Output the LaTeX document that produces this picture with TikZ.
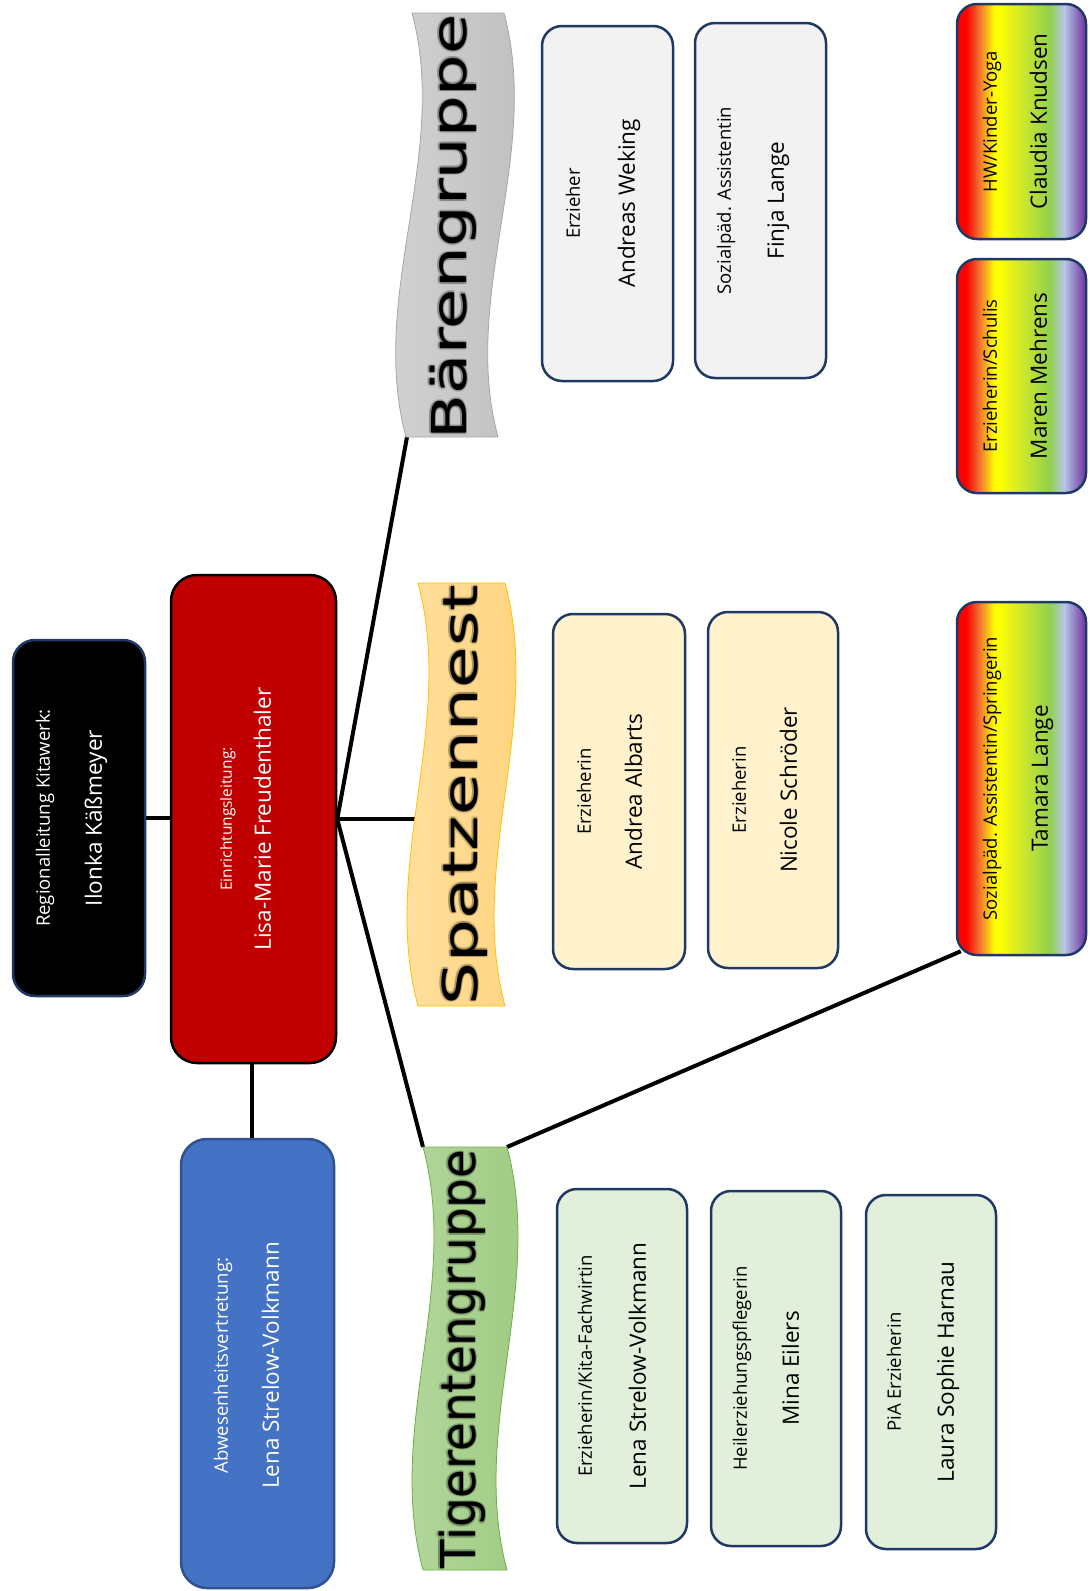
\documentclass[tikz,border=0pt]{standalone}
\usepackage{fontspec}
\setmainfont{Open Sans}
\newfontfamily\bannerfont{DejaVu Sans}
\usetikzlibrary{calc}
\definecolor{navy}{HTML}{1F3864}
\definecolor{kred}{HTML}{C00000}
\definecolor{kblue}{HTML}{4472C4}
\definecolor{kblueb}{HTML}{2F528F}
\definecolor{bearfill}{HTML}{F2F2F2}
\definecolor{spatzfill}{HTML}{FFF2CC}
\definecolor{tigerfill}{HTML}{E2EFDA}
\definecolor{rbred}{HTML}{FF0000}
\definecolor{rborange}{HTML}{F07030}
\definecolor{rbyellow}{HTML}{FFFF00}
\definecolor{rbyg}{HTML}{CCE82C}
\definecolor{rbgreen}{HTML}{92D050}
\definecolor{rbblue}{HTML}{B4C7E7}
\definecolor{rbpurple}{HTML}{7030A0}
\definecolor{bearL}{HTML}{D4D4D4}
\definecolor{bearR}{HTML}{BEBEBE}
\definecolor{bearD}{HTML}{A6A6A6}
\definecolor{spzL}{HTML}{FFE2A4}
\definecolor{spzR}{HTML}{FFD27A}
\definecolor{spzD}{HTML}{FFC000}
\definecolor{tigL}{HTML}{B6D8A0}
\definecolor{tigR}{HTML}{9CCA7E}
\definecolor{tigD}{HTML}{70AD47}
\pgfdeclarehorizontalshading{rainbow}{100bp}{color(0bp)=(rbred); color(25bp)=(rbred); color(28.5bp)=(rbred); color(33.5bp)=(rborange); color(39.5bp)=(rbyellow); color(41bp)=(rbyellow); color(50.5bp)=(rbyg); color(61bp)=(rbgreen); color(66.5bp)=(rbblue); color(75bp)=(rbpurple); color(100bp)=(rbpurple)}
\pgfdeclarelayer{bg}
\pgfsetlayers{bg,main}
\newcommand{\wavebanner}[6]{% #1 style, #2 xL top, #3 xL bottom, #4 W, #5 top, #6 bottom
  \path[#1] (#2,#5) -- ({#2+#4},#5)
    .. controls ({#2+#4+38},{(2*#5+#6)/3}) and ({#3+#4-38},{(#5+2*#6)/3}) .. ({#3+#4},#6)
    -- (#3,#6)
    .. controls ({#3-38},{(#5+2*#6)/3}) and ({#2+38},{(2*#5+#6)/3}) .. (#2,#5) -- cycle;}
\newcommand{\bannerlabel}[4]{% #1 name, #2 x, #3 y, #4 length, #5 text
  \foreach \dx/\dy in {1.6/0,-1.6/0,0/1.6,0/-1.6,1.2/1.2,-1.2/-1.2,1.2/-1.2,-1.2/1.2}
    \node[btext, text opacity=0.12, xshift=\dx pt, yshift=\dy pt] at (#2,#3) {\resizebox{#4pt}{\height}{\bannerword}};
  \node[btext] (#1) at (#2,#3) {\resizebox{#4pt}{\height}{\bannerword}};}
\begin{document}
\begin{tikzpicture}[x=1pt,y=-1pt,
  box/.style={rectangle, rounded corners=20pt, draw=navy, line width=2.5pt, inner sep=0pt},
  prole/.style={rotate=90, anchor=base, inner sep=0pt, font=\fontsize{18.5}{20}\selectfont},
  pname/.style={rotate=90, anchor=base, inner sep=0pt, font=\fontsize{22.5}{24}\selectfont},
  btext/.style={rotate=90, anchor=base, inner sep=0pt, font=\bannerfont\fontsize{48}{52}\selectfont},
  conn/.style={line width=4pt, black}]
\useasboundingbox (0,0) rectangle (1090,1591);

% --- leadership boxes
\node[box, fill=black, rounded corners=22pt, minimum width=132pt, minimum height=356pt] (black) at (79,818) {};
\node[box, fill=kred, draw=black, rounded corners=26pt, minimum width=165pt, minimum height=488pt] (red) at (253.5,819) {};
\node[box, fill=kblue, draw=kblueb, rounded corners=26pt, minimum width=153pt, minimum height=449pt] (blue) at (257.5,1363.5) {};

\node[prole, text=white] (t-reg) at ([xshift=38pt]black.west) {Regionalleitung Kitawerk:};
\node[pname, text=white] (t-ilo) at ([xshift=90pt]black.west) {Ilonka Käßmeyer};
\node[prole, text=white, font=\fontsize{15.5}{17}\selectfont] (t-ein) at ([xshift=62pt]red.west) {Einrichtungsleitung:};
\node[pname, text=white] (t-lis) at ([xshift=101pt]red.west) {Lisa-Marie Freudenthaler};
\node[prole, text=white] (t-abw) at ([xshift=48pt,yshift=-2pt]blue.west) {Abwesenheitsvertretung:};
\node[pname, text=white] (t-len) at ([xshift=99pt,yshift=-2pt]blue.west) {Lena Strelow-Volkmann};

% --- banners
\wavebanner{draw=bearD, line width=0.8pt, left color=bearL, right color=bearR}{412}{406}{92}{13}{437}
\wavebanner{draw=spzD, line width=0.8pt, left color=spzL, right color=spzR}{418}{418}{87}{583}{1006}
\wavebanner{draw=tigD, line width=0.8pt, left color=tigL, right color=tigR}{423}{423}{84}{1147}{1570}

\coordinate (bar-bl) at (407,437);
\coordinate (spz-w) at (416,819);
\coordinate (tig-tl) at (423,1147);
\coordinate (tig-tr) at (507,1147);

\def\bannerword{Bärengruppe}\bannerlabel{bar}{466}{227}{425}
\def\bannerword{Spatzennest}\bannerlabel{spz}{477}{795}{420}
\def\bannerword{Tigerentengruppe}\bannerlabel{tig}{475}{1359}{418}

% --- Bärengruppe staff
\node[box, fill=bearfill, minimum width=131pt, minimum height=355pt] (bw1) at (607.5,203.5) {};
\node[box, fill=bearfill, minimum width=131pt, minimum height=355pt] (bw2) at (760.5,200.5) {};
\node[prole] at ([xshift=39pt]bw1.west) {Erzieher};
\node[pname] at ([xshift=94pt]bw1.west) {Andreas Weking};
\node[prole] at ([xshift=37pt]bw2.west) {Sozialpäd. Assistentin};
\node[pname] at ([xshift=90pt]bw2.west) {Finja Lange};

% --- Spatzennest staff
\node[box, fill=spatzfill, minimum width=132pt, minimum height=355pt] (sp1) at (619,791.5) {};
\node[box, fill=spatzfill, minimum width=130pt, minimum height=356pt] (sp2) at (773,790) {};
\node[prole] at ([xshift=39pt]sp1.west) {Erzieherin};
\node[pname] at ([xshift=90pt]sp1.west) {Andrea Albarts};
\node[prole] at ([xshift=39pt]sp2.west) {Erzieherin};
\node[pname] at ([xshift=90pt]sp2.west) {Nicole Schröder};

% --- Tigerentengruppe staff
\node[box, fill=tigerfill, minimum width=130pt, minimum height=354pt] (tg1) at (622,1366) {};
\node[box, fill=tigerfill, minimum width=130pt, minimum height=355pt] (tg2) at (776,1368.5) {};
\node[box, fill=tigerfill, minimum width=130pt, minimum height=354pt] (tg3) at (931,1372) {};
\node[prole] at ([xshift=36pt]tg1.west) {Erzieherin/Kita-Fachwirtin};
\node[pname] at ([xshift=90pt]tg1.west) {Lena Strelow-Volkmann};
\node[prole] at ([xshift=37pt]tg2.west) {Heilerziehungspflegerin};
\node[pname] at ([xshift=89pt]tg2.west) {Mina Eilers};
\node[prole] at ([xshift=36pt]tg3.west) {PiA Erzieherin};
\node[pname] at ([xshift=89pt]tg3.west) {Laura Sophie Harnau};

% --- rainbow boxes
\node[box, shading=rainbow, minimum width=129pt, minimum height=235pt] (rb1) at (1021.5,121.5) {};
\node[box, shading=rainbow, minimum width=129pt, minimum height=234pt] (rb2) at (1021.5,376) {};
\node[box, shading=rainbow, minimum width=129pt, minimum height=353pt] (rb3) at (1021.5,778.5) {};
\node[prole] at ([xshift=41pt]rb1.west) {HW/Kinder-Yoga};
\node[pname] at ([xshift=91pt]rb1.west) {Claudia Knudsen};
\node[prole] at ([xshift=41pt]rb2.west) {Erzieherin/Schulis};
\node[pname] at ([xshift=91pt]rb2.west) {Maren Mehrens};
\node[prole] at ([xshift=41pt]rb3.west) {Sozialpäd. Assistentin/Springerin};
\node[pname] at ([xshift=92pt]rb3.west) {Tamara Lange};

% --- connectors
\begin{pgfonlayer}{bg}
\draw[conn] (black.east) -- (black.east -| red.west);
\draw[conn] ([xshift=-2pt]red.south) -- ([xshift=-2pt]red.south |- blue.north);
\draw[conn] (red.east) -- (bar-bl);
\draw[conn] (red.east) -- (spz-w);
\draw[conn] (red.east) -- (tig-tl);
\draw[conn] (tig-tr) -- ([shift={(5pt,5pt)}]rb3.south west);
\end{pgfonlayer}
\end{tikzpicture}
\end{document}
